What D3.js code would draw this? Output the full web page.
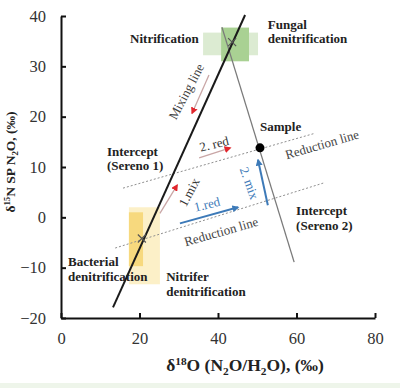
<!DOCTYPE html>
<html>
<head>
<meta charset="utf-8">
<script src="https://cdn.jsdelivr.net/npm/d3@7"></script>
<style>
  html, body { margin: 0; padding: 0; background: #fff; }
  svg { display: block; font-family: "Liberation Serif", "Times New Roman", serif; }
</style>
</head>
<body>
<svg id="chart" width="400" height="388"></svg>
<script>
// axis ticks
const xTicks = [0, 20, 40, 60, 80];
const yTicks = [-20, -10, 0, 10, 20, 30, 40];

// lines (data units: d18O, d15N SP)
const mixingLine = [[13.25, -17.9], [46.9, 40.2]];
const sampleLine = [[41.0, 37.8], [59.4, -8.9]];
const reductionUpper = [[15.8, 5.8], [64.7, 16.7]];
const reductionLower = [[13.8, -6.1], [66.8, 6.8]];

// points
const sample = [50.7, 13.8];
const endmembers = [[20.6, -4.2], [43.6, 34.8]];

// source boxes
const boxKeys = ["fungalOuter", "fungalInner", "bactOuter", "bactInner"];
const boxX0 = [36.2, 40.8, 17.3, 17.3];
const boxX1 = [50.2, 47.9, 25.2, 20.9];
const boxY0 = [32.2, 31.0, -13.3, -9.7];
const boxY1 = [36.7, 37.7, 2.0, 1.0];

// process arrows
const arrowKind = ["red", "red", "red", "blue", "blue"];
const arrowFrom = [[37.7, 28.3], [35.2, 11.8], [25.2, 0.8], [30.3, -1.2], [52.7, 2.4]];
const arrowTo = [[33.4, 20.7], [43.1, 13.8], [29.6, 6.4], [45.1, 2.0], [50.2, 11.4]];

// annotations along lines
const noteText = ["Mixing line", "2. red", "1.mix", "1.red", "2. mix", "Reduction line", "Reduction line"];
const notePos = [[31.9, 25.0], [39.0, 14.6], [32.6, 5.0], [37.2, 2.6], [48.0, 6.8], [66.5, 14.5], [40.8, -2.8]];

// source / intercept labels (first line position)
const labelLines = [["Nitrification"], ["Fungal", "denitrification"], ["Sample"],
  ["Intercept", "(Sereno 1)"], ["Intercept", "(Sereno 2)"],
  ["Bacterial", "denitrification"], ["Nitrifer", "denitrification"]];
const labelPos = [[17.6, 34.6], [52.7, 37.5], [50.7, 17.1], [11.7, 12.2], [59.9, 0.4], [1.8, -9.7], [26.8, -12.7]];

const svg = d3.select("#chart");
const x = d3.scaleLinear().domain([0, 80]).range([61, 375]);
const y = d3.scaleLinear().domain([-20, 40]).range([318, 16]);

const boxFill = { fungalOuter: "#dcebd2", fungalInner: "#a9d193", bactOuter: "#fcf0c8", bactInner: "#f7d97e" };
const noteStyle = [
  { fill: "#444", angle: -62 }, { fill: "#333", angle: -14 }, { fill: "#333", angle: -62 },
  { fill: "#3d7ab8", angle: -14 }, { fill: "#3d7ab8", angle: 70 },
  { fill: "#444", angle: -16 }, { fill: "#444", angle: -16 }
];

svg.append("rect").attr("x", 0).attr("y", 383).attr("width", 400).attr("height", 5).attr("fill", "#eef5ea");

// arrow markers
const defs = svg.append("defs");
[["red", "#e1262d"], ["blue", "#3d7ab8"]].forEach(([k, c]) => {
  defs.append("marker").attr("id", "head-" + k)
    .attr("viewBox", "0 0 10 10").attr("refX", 8).attr("refY", 5)
    .attr("markerWidth", 7).attr("markerHeight", 7).attr("markerUnits", "userSpaceOnUse")
    .attr("orient", "auto")
    .append("path").attr("d", "M0,0L10,5L0,10z").attr("fill", c);
});

// boxes
svg.append("g").selectAll("rect").data(boxKeys).join("rect")
  .attr("x", (d, i) => x(boxX0[i]))
  .attr("y", (d, i) => y(boxY1[i]))
  .attr("width", (d, i) => x(boxX1[i]) - x(boxX0[i]))
  .attr("height", (d, i) => y(boxY0[i]) - y(boxY1[i]))
  .attr("fill", d => boxFill[d]);

const line = d3.line().x(d => x(d[0])).y(d => y(d[1]));

// dashed reduction lines
svg.append("g").selectAll("path").data([reductionUpper, reductionLower]).join("path")
  .attr("d", line).attr("fill", "none")
  .attr("stroke", "#8f8f8f").attr("stroke-width", 1).attr("stroke-dasharray", "2,2");

// line through sample
svg.append("path").datum(sampleLine).attr("d", line)
  .attr("fill", "none").attr("stroke", "#7a7a7a").attr("stroke-width", 1.3);

// mixing line
svg.append("path").datum(mixingLine).attr("d", line)
  .attr("fill", "none").attr("stroke", "#1a1a1a").attr("stroke-width", 2);

// end-member markers
const mk = svg.append("g").attr("stroke", "#555").attr("stroke-width", 1.2);
endmembers.forEach(p => {
  const cx = x(p[0]), cy = y(p[1]);
  mk.append("path").attr("d", `M${cx - 4},${cy - 4}L${cx + 4},${cy + 4}M${cx - 4},${cy + 4}L${cx + 4},${cy - 4}`);
});

// arrows
svg.append("g").selectAll("path").data(arrowKind).join("path")
  .attr("d", (d, i) => line([arrowFrom[i], arrowTo[i]]))
  .attr("fill", "none")
  .attr("stroke", d => d === "red" ? "#c9a6a6" : "#3d7ab8")
  .attr("stroke-width", d => d === "red" ? 1.3 : 2)
  .attr("marker-end", d => `url(#head-${d})`);

// sample point
svg.append("circle").attr("cx", x(sample[0])).attr("cy", y(sample[1])).attr("r", 4.5).attr("fill", "#000");

// notes along lines
svg.append("g").selectAll("text").data(noteText).join("text")
  .attr("transform", (d, i) => `translate(${x(notePos[i][0])},${y(notePos[i][1])}) rotate(${noteStyle[i].angle})`)
  .attr("text-anchor", "middle").attr("dy", "0.35em")
  .attr("font-size", 13)
  .attr("fill", (d, i) => noteStyle[i].fill)
  .text(d => d);

// labels
const lab = svg.append("g").attr("font-size", 13).attr("font-weight", "bold").attr("fill", "#222");
labelLines.forEach((lines, i) => {
  const t = lab.append("text").attr("x", x(labelPos[i][0])).attr("y", y(labelPos[i][1]));
  lines.forEach((s, j) => {
    t.append("tspan").attr("x", x(labelPos[i][0])).attr("dy", j === 0 ? 0 : 14.5).text(s);
  });
});

// axes
const xAxis = svg.append("g").attr("transform", "translate(0,318)")
  .call(d3.axisBottom(x).tickValues(xTicks).tickSizeInner(-5).tickSizeOuter(0));
xAxis.selectAll("text").attr("y", 26).attr("dy", 0);

const yAxis = svg.append("g").attr("transform", "translate(61,0)")
  .call(d3.axisLeft(y).tickValues(yTicks).tickSizeInner(-5).tickSizeOuter(0));
yAxis.selectAll("text").attr("x", -15);

[xAxis, yAxis].forEach(a => {
  a.select(".domain").attr("stroke", "#111").attr("stroke-width", 2);
  a.selectAll(".tick line").attr("stroke", "#111").attr("stroke-width", 2);
  a.selectAll("text").attr("font-family", "Liberation Serif, serif").attr("font-size", 16.5).attr("fill", "#333");
});

// axis titles with sub/superscripts
function rich(t, parts, size) {
  parts.forEach(([s, k]) => {
    const sp = t.append("tspan").text(s);
    if (k === "sup") sp.attr("font-size", size * 0.65).attr("dy", -size * 0.35);
    if (k === "sub") sp.attr("font-size", size * 0.65).attr("dy", size * 0.25);
    if (k === "back-sup") sp.attr("dy", size * 0.35);
    if (k === "back-sub") sp.attr("dy", -size * 0.25);
  });
}
const xt = svg.append("text").attr("x", 245).attr("y", 371).attr("text-anchor", "middle")
  .attr("font-size", 17.5).attr("font-weight", "bold").attr("fill", "#222");
rich(xt, [["δ"], ["18", "sup"], ["O (N", "back-sup"], ["2", "sub"], ["O/H", "back-sub"], ["2", "sub"], ["O), (‰)", "back-sub"]], 17.5);

const yt = svg.append("text").attr("transform", "translate(15,162) rotate(-90)").attr("text-anchor", "middle")
  .attr("font-size", 13.5).attr("font-weight", "bold").attr("fill", "#222");
rich(yt, [["δ"], ["15", "sup"], ["N SP N", "back-sup"], ["2", "sub"], ["O, (‰)", "back-sub"]], 13.5);
</script>
</body>
</html>
